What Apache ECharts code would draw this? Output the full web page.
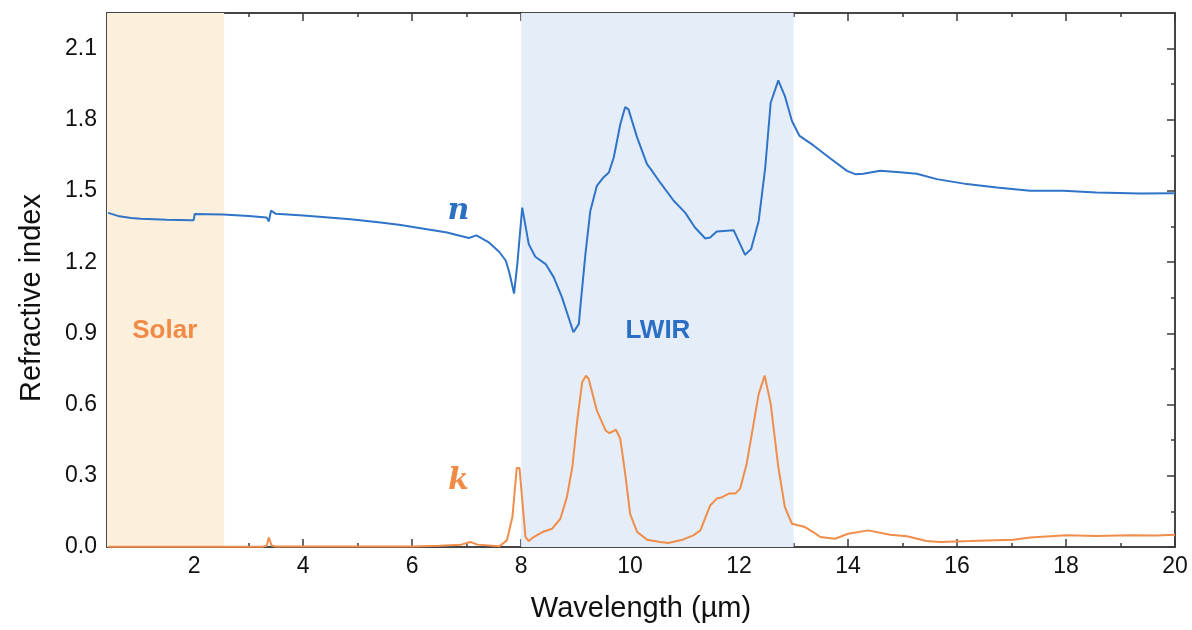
<!DOCTYPE html>
<html>
<head>
<meta charset="utf-8">
<script src="https://cdn.jsdelivr.net/npm/echarts@6/dist/echarts.min.js"></script>
<style>
html,body{margin:0;padding:0;background:#fff;}
#chart{width:1192px;height:630px;}
</style>
</head>
<body>
<div id="chart"></div>
<script>
// ---- data ----
const nWavelength = [0.42,0.6,0.84,1.02,1.5,1.94,1.99,2.01,2.53,3.0,3.33,3.37,3.41,3.5,4.0,4.87,5.42,5.79,6.64,7.04,7.18,7.4,7.6,7.72,7.79,7.87,7.93,8.02,8.14,8.26,8.45,8.6,8.75,8.96,9.06,9.08,9.18,9.27,9.39,9.51,9.61,9.7,9.82,9.91,9.97,10.13,10.31,10.38,10.55,10.8,11.01,11.19,11.38,11.47,11.59,11.9,12.11,12.22,12.36,12.48,12.58,12.72,12.84,12.97,13.11,13.36,13.67,13.98,14.13,14.28,14.59,14.95,15.26,15.63,16.18,16.73,17.34,17.95,18.56,19.36,20.0];
const nValues = [1.408,1.395,1.386,1.383,1.379,1.377,1.377,1.403,1.401,1.395,1.388,1.372,1.417,1.404,1.397,1.381,1.367,1.357,1.325,1.302,1.313,1.285,1.243,1.206,1.15,1.068,1.192,1.43,1.276,1.223,1.192,1.136,1.052,0.905,0.94,0.995,1.234,1.416,1.522,1.557,1.578,1.641,1.781,1.854,1.844,1.725,1.613,1.592,1.536,1.459,1.409,1.346,1.3,1.304,1.329,1.335,1.231,1.255,1.374,1.599,1.872,1.966,1.9,1.795,1.732,1.693,1.638,1.585,1.571,1.573,1.585,1.579,1.573,1.55,1.529,1.515,1.501,1.501,1.494,1.489,1.491];

const kWavelength = [0.42,3.25,3.33,3.37,3.42,3.5,6.0,6.5,6.9,7.07,7.2,7.6,7.74,7.84,7.92,7.97,8.02,8.08,8.14,8.23,8.39,8.57,8.72,8.84,8.94,9.03,9.12,9.19,9.24,9.39,9.55,9.62,9.74,9.82,9.91,10.0,10.13,10.31,10.55,10.7,10.98,11.16,11.29,11.47,11.59,11.69,11.81,11.93,12.02,12.14,12.36,12.47,12.58,12.72,12.84,12.97,13.21,13.36,13.49,13.76,14.0,14.37,14.77,15.08,15.44,15.69,16.24,17.03,17.34,18.01,18.56,19.17,19.66,20.0];
const kValues = [0.001,0.001,0.005,0.04,0.006,0.002,0.002,0.005,0.01,0.021,0.01,0.003,0.028,0.126,0.333,0.333,0.2,0.042,0.025,0.042,0.063,0.077,0.119,0.21,0.337,0.533,0.694,0.722,0.708,0.575,0.491,0.48,0.494,0.456,0.309,0.14,0.063,0.031,0.021,0.017,0.032,0.049,0.07,0.175,0.204,0.21,0.225,0.225,0.246,0.351,0.645,0.722,0.603,0.337,0.168,0.098,0.084,0.063,0.042,0.035,0.056,0.07,0.052,0.045,0.025,0.021,0.025,0.031,0.04,0.049,0.046,0.05,0.048,0.052];

const xMajorTicks = [2,4,6,8,10,12,14,16,18,20];
const xMinorTicks = [1,3,5,7,9,11,13,15,17,19];
const yMajorTicks = [0,0.3,0.6,0.9,1.2,1.5,1.8,2.1];
const yMinorTicks = [0.15,0.45,0.75,1.05,1.35,1.65,1.95];

const solarBand = [0.4, 2.55];
const lwirBand = [8, 13];

const annotationText = ['Solar','LWIR','n','k'];
const annotationX = [1.46, 10.51, 6.85, 6.85];
const annotationY = [0.912, 0.912, 1.416, 0.276];

// ---- chart ----
const X_MIN = 0.4, X_MAX = 20, Y_MIN = 0, Y_MAX = 2.25;
const axisColor = '#3a3a3a';
const blue = '#2f74c8', orange = '#f08d4a';
const labelFont = 'Liberation Sans, Arial, sans-serif';

function xAx(pos, ticks, len, labels, extra) {
  return Object.assign({
    type:'value', min:X_MIN, max:X_MAX, position:pos,
    axisLine:{show:true, onZero:false, lineStyle:{color:axisColor, width:1.5}},
    axisTick:{show:true, inside:true, length:len, customValues:ticks, lineStyle:{color:axisColor, width:1.5}},
    axisLabel:labels ? {show:true, customValues:ticks, color:'#111', fontSize:23, fontFamily:labelFont, margin:8} : {show:false},
    splitLine:{show:false}
  }, extra||{});
}
function yAx(pos, ticks, len, labels, extra) {
  return Object.assign({
    type:'value', min:Y_MIN, max:Y_MAX, position:pos,
    axisLine:{show:true, onZero:false, lineStyle:{color:axisColor, width:1.5}},
    axisTick:{show:true, inside:true, length:len, customValues:ticks, lineStyle:{color:axisColor, width:1.5}},
    axisLabel:labels ? {show:true, customValues:ticks, color:'#111', fontSize:23, fontFamily:labelFont, margin:10,
      formatter:v=>v.toFixed(1)} : {show:false},
    splitLine:{show:false}
  }, extra||{});
}

const chart = echarts.init(document.getElementById('chart'), null, {renderer:'canvas'});
const option = {
  backgroundColor:'#ffffff',
  animation:false,
  grid:{left:107, right:17, top:13, bottom:83, containLabel:false},
  xAxis:[
    xAx('bottom', xMajorTicks, 8, true, {name:'Wavelength (µm)', nameLocation:'middle', nameGap:47,
      nameTextStyle:{fontSize:29, color:'#111', fontFamily:labelFont}}),
    xAx('bottom', xMinorTicks, 4, false),
    xAx('top', xMajorTicks, 8, false),
    xAx('top', xMinorTicks, 4, false)
  ],
  yAxis:[
    yAx('left', yMajorTicks, 8, true, {name:'Refractive index', nameLocation:'middle', nameGap:61,
      nameTextStyle:{fontSize:29, color:'#111', fontFamily:labelFont, padding:[0,36,0,0]}}),
    yAx('left', yMinorTicks, 4, false),
    yAx('right', yMajorTicks, 8, false),
    yAx('right', yMinorTicks, 4, false)
  ],
  series:[
    {
      type:'line', xAxisIndex:0, yAxisIndex:0, data:[], z:1, silent:true,
      markArea:{
        silent:true,
        data:[
          [{xAxis:solarBand[0], itemStyle:{color:'#fcefdc', opacity:1}}, {xAxis:solarBand[1]}],
          [{xAxis:lwirBand[0], itemStyle:{color:'#e5eef8', opacity:1}}, {xAxis:lwirBand[1]}]
        ]
      }
    },
    {
      name:'n', type:'line', xAxisIndex:0, yAxisIndex:0, z:3, symbol:'none',
      lineStyle:{color:blue, width:2},
      data:nWavelength.map((w,i)=>[w,nValues[i]])
    },
    {
      name:'k', type:'line', xAxisIndex:0, yAxisIndex:0, z:3, symbol:'none',
      lineStyle:{color:orange, width:2},
      data:kWavelength.map((w,i)=>[w,kValues[i]])
    },
    {
      type:'scatter', xAxisIndex:0, yAxisIndex:0, z:4, symbolSize:0, silent:true,
      itemStyle:{opacity:1},
      data:annotationText.map((t,i)=>{
        const isSerif = (t==='n'||t==='k');
        const col = (t==='Solar'||t==='k') ? '#f08a45' : '#2a6fc4';
        return {
          value:[annotationX[i], annotationY[i]],
          label:{show:true, position:'inside', formatter:t, color:col, opacity:1,
            fontSize: isSerif ? 30 : 26, fontWeight:'bold',
            fontStyle: isSerif ? 'italic' : 'normal',
            fontFamily: isSerif ? 'DejaVu Serif, serif' : labelFont}
        };
      })
    }
  ]
};
chart.setOption(option);
</script>
</body>
</html>
